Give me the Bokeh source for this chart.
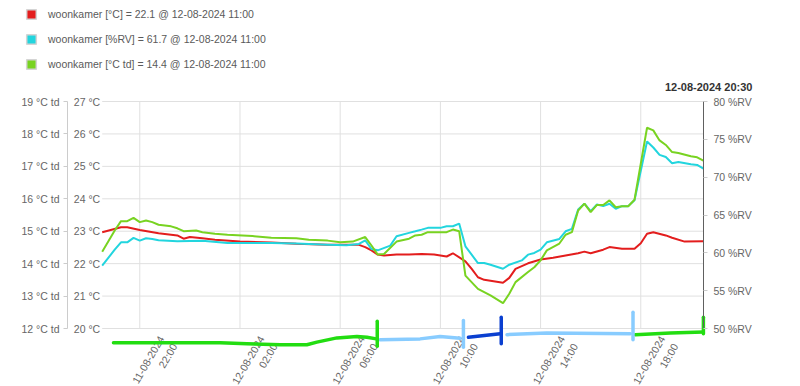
import numpy as np
import pandas as pd
from math import pi
from bokeh.plotting import figure
from bokeh.models import (Range1d, LinearAxis, FixedTicker, PrintfTickFormatter,
                          Legend, LegendItem)
from bokeh.embed import file_html
from bokeh.resources import INLINE
from bokeh.core.properties import value

# ---------------- data (hours since 11-08-2024 00:00) ----------------
temp_h = [20.5, 21.25, 21.5, 22.0, 22.75, 23.5, 23.75, 24.0, 24.5, 25.0,
          26.0, 27.25, 28.25, 29.5, 30.75, 31.0, 31.25, 31.5, 31.75, 32.25,
          32.75, 33.25, 33.75, 34.25, 34.5, 35.0, 35.25, 35.5, 35.75, 36.5,
          36.75, 37.0, 37.5, 38.0, 38.5, 39.0, 39.5, 39.75, 40.0, 40.5,
          40.75, 41.25, 41.75, 42.0, 42.25, 42.5, 43.0, 43.25, 43.75, 44.5]
temp_c = [22.97, 23.12, 23.12, 23.04, 22.94, 22.87, 22.77, 22.82, 22.78, 22.74,
          22.68, 22.65, 22.61, 22.58, 22.58, 22.51, 22.41, 22.28, 22.25, 22.28,
          22.28, 22.30, 22.28, 22.22, 22.32, 22.07, 21.84, 21.58, 21.50, 21.41,
          21.56, 21.84, 22.01, 22.13, 22.18, 22.25, 22.32, 22.37, 22.32, 22.43,
          22.51, 22.46, 22.46, 22.63, 22.92, 22.97, 22.87, 22.80, 22.68, 22.69]

rh_h = [20.5, 21.0, 21.25, 21.5, 21.75, 22.0, 22.25, 22.5, 22.75, 23.5,
        24.5, 25.5, 27.25, 28.25, 29.5, 30.25, 30.75, 31.0, 31.25, 31.5,
        32.0, 32.25, 32.75, 33.0, 33.25, 33.5, 34.0, 34.25, 34.5, 34.75,
        35.0, 35.5, 35.75, 36.0, 36.5, 36.75, 37.25, 37.5, 37.75, 38.0,
        38.25, 38.75, 39.0, 39.25, 39.5, 39.75, 40.0, 40.25, 40.5, 40.75,
        41.0, 41.25, 41.5, 41.75, 42.25, 42.5, 42.75, 43.0, 43.25, 43.5,
        44.0, 44.25, 44.5]
rh_pct = [58.30, 60.42, 61.39, 61.39, 61.97, 61.61, 61.92, 61.84, 61.65, 61.52,
          61.61, 61.31, 61.31, 61.22, 61.08, 60.99, 61.18, 61.65, 60.51, 60.33,
          60.95, 62.19, 62.64, 62.85, 63.07, 63.30, 63.30, 63.51, 63.51, 63.87,
          60.86, 58.65, 58.65, 58.43, 57.90, 58.43, 59.00, 59.76, 59.98, 60.42,
          61.39, 61.84, 62.85, 63.17, 65.73, 66.49, 65.50, 66.39, 66.17, 66.49,
          65.82, 66.17, 66.17, 66.96, 74.72, 73.92, 72.94, 72.67, 71.84, 72.01,
          71.70, 71.61, 71.13]

td_h = [20.5, 21.0, 21.25, 21.5, 21.75, 22.0, 22.25, 22.5, 22.75, 23.25,
        23.5, 23.75, 24.25, 24.5, 25.0, 25.5, 26.5, 27.25, 28.25, 28.75,
        29.5, 30.0, 30.5, 31.0, 31.25, 31.5, 31.75, 32.25, 32.75, 33.0,
        33.25, 33.5, 33.75, 34.25, 34.5, 34.75, 35.0, 35.5, 36.0, 36.5,
        36.75, 37.0, 37.5, 37.75, 38.0, 38.25, 38.75, 39.0, 39.25, 39.5,
        39.75, 40.0, 40.25, 40.5, 40.75, 41.0, 41.25, 41.5, 41.75, 42.25,
        42.5, 42.75, 43.0, 43.25, 43.5, 44.0, 44.25, 44.5]
td_c = [14.37, 15.02, 15.31, 15.31, 15.41, 15.28, 15.33, 15.28, 15.20, 15.15,
        15.09, 15.00, 15.02, 14.97, 14.92, 14.89, 14.85, 14.80, 14.78, 14.74,
        14.71, 14.66, 14.68, 14.82, 14.56, 14.28, 14.30, 14.68, 14.77, 14.87,
        14.89, 14.97, 14.97, 14.97, 15.05, 15.00, 13.63, 13.22, 13.02, 12.78,
        13.07, 13.43, 13.74, 13.89, 14.10, 14.41, 14.62, 14.89, 14.97, 15.64,
        15.85, 15.59, 15.81, 15.81, 15.95, 15.74, 15.77, 15.77, 15.97, 18.19,
        18.11, 17.80, 17.66, 17.44, 17.41, 17.31, 17.28, 17.18]

# hand-drawn period strokes under the chart (hours, level on the °C scale)
stroke_colors = ["#22dd11", "#88ccff", "#0a3fd0", "#88ccff", "#22dd11"]
stroke_h = [[20.95, 23.08, 25.21, 26.28, 27.61, 28.67, 29.07, 29.87, 30.67, 31.07, 31.44],
            [31.6, 33.19, 33.99, 34.79],
            [35.12, 36.39],
            [36.66, 38.25, 41.58],
            [41.78, 43.18, 44.5]]
stroke_lvl = [[19.56, 19.56, 19.56, 19.53, 19.50, 19.50, 19.58, 19.71, 19.75, 19.73, 19.68],
              [19.65, 19.68, 19.75, 19.70],
              [19.73, 19.84],
              [19.81, 19.86, 19.84],
              [19.81, 19.86, 19.89]]
mark_h = [31.48, 34.92, 36.43, 41.69, 44.5]
mark_lo = [19.45, 19.42, 19.53, 19.65, 19.84]
mark_hi = [20.22, 20.25, 20.35, 20.50, 20.35]

t_start, t_end = 20.5, 44.5          # 11-08 20:30 .. 12-08 20:30
tick_hours = [22, 26, 30, 34, 38, 42]
tick_labels = ["11-08-2024\n22:00", "12-08-2024\n02:00", "12-08-2024\n06:00",
               "12-08-2024\n10:00", "12-08-2024\n14:00", "12-08-2024\n18:00"]
temp_ticks = [20, 21, 22, 23, 24, 25, 26, 27]
td_ticks = [12, 13, 14, 15, 16, 17, 18, 19]
rh_ticks = [50, 55, 60, 65, 70, 75, 80]

legend_labels = ["woonkamer [°C] = 22.1 @ 12-08-2024 11:00",
                 "woonkamer [%RV] = 61.7 @ 12-08-2024 11:00",
                 "woonkamer [°C td] = 14.4 @ 12-08-2024 11:00"]
title_text = "12-08-2024 20:30"

RED, CYAN, GREEN = "#e31d1d", "#22d5de", "#78d321"
FONT = "Liberation Sans"
GRID = "#e0e0e0"
LBL = "#666666"

BASE = pd.Timestamp("2024-08-11 00:00")


def ms(hours):
    return np.array([(BASE + pd.Timedelta(hours=h)).value / 1e6 for h in hours])


# ---------------- geometry (the frame covers the whole canvas) ----------------
W, H = 796, 385
X0, PX_H = 101.7, 25.05          # pixel of t_start, pixels per hour
Y27, PX_C = 101.0, 227 / 7.0     # pixel of 27 °C, pixels per °C
PX_RH = 227 / 30.0
TD_AXIS_X = 67.0                 # pixel of the outer (dew point) axis line

x_lo_h = t_start - X0 / PX_H
x_hi_h = t_start + (W - X0) / PX_H
y_hi = 27 + Y27 / PX_C
y_lo = 27 - (H - Y27) / PX_C
rh_hi = 80 + Y27 / PX_RH
rh_lo = 80 - (H - Y27) / PX_RH

p = figure(width=W, height=H, output_backend="svg", toolbar_location=None,
           x_axis_type="datetime", x_axis_location=None, y_axis_location="left",
           x_range=Range1d(ms([x_lo_h])[0], ms([x_hi_h])[0]),
           y_range=Range1d(y_lo, y_hi),
           min_border_top=0, min_border_bottom=0,
           min_border_left=0, min_border_right=0)
p.extra_y_ranges = {"td": Range1d(y_lo - 8, y_hi - 8), "rh": Range1d(rh_lo, rh_hi)}
p.outline_line_color = None
p.background_fill_color = "white"
p.border_fill_color = "white"
p.xgrid.visible = False
p.ygrid.visible = False

# inner °C axis at the start of the data
ax = p.yaxis[0]
ax.fixed_location = ms([t_start])[0]
ax.ticker = FixedTicker(ticks=temp_ticks)
ax.bounds = (20, 27)
ax.formatter = PrintfTickFormatter(format="%d °C")
ax.axis_line_color = None
ax.major_tick_line_color = None
ax.minor_tick_line_color = None
ax.major_tick_out = 0
ax.major_tick_in = 0
ax.major_label_standoff = 2
ax.major_label_text_font = FONT
ax.major_label_text_font_size = "10.5px"
ax.major_label_text_color = LBL

# outer °C td axis
td_ax = LinearAxis(y_range_name="td", ticker=FixedTicker(ticks=td_ticks),
                   formatter=PrintfTickFormatter(format="%d °C td"), bounds=(12, 19))
td_ax.fixed_location = ms([x_lo_h + TD_AXIS_X / PX_H])[0]
td_ax.axis_line_color = "#cccccc"
td_ax.major_tick_line_color = "#cccccc"
td_ax.minor_tick_line_color = None
td_ax.major_tick_out = 4
td_ax.major_tick_in = 0
td_ax.major_label_standoff = 4
td_ax.major_label_text_font = FONT
td_ax.major_label_text_font_size = "10.5px"
td_ax.major_label_text_color = LBL
p.add_layout(td_ax, "left")

# right %RV axis at the end of the data
rh_ax = LinearAxis(y_range_name="rh", ticker=FixedTicker(ticks=rh_ticks),
                   formatter=PrintfTickFormatter(format="%d %%RV"), bounds=(50, 80))
rh_ax.fixed_location = ms([t_end])[0]
rh_ax.axis_line_color = "#606060"
rh_ax.major_tick_line_color = "#cccccc"
rh_ax.minor_tick_line_color = None
rh_ax.major_tick_out = 4
rh_ax.major_tick_in = 0
rh_ax.major_label_standoff = 6
rh_ax.major_label_text_font = FONT
rh_ax.major_label_text_font_size = "10.5px"
rh_ax.major_label_text_color = LBL
p.add_layout(rh_ax, "right")

# grid lines, limited to the value area
n_h = len(temp_ticks)
p.segment(x0=ms([t_start] * n_h), y0=temp_ticks, x1=ms([t_end] * n_h), y1=temp_ticks,
          line_color=GRID, line_width=1)
tx = ms(tick_hours)
p.segment(x0=tx, y0=[20] * len(tx), x1=tx, y1=[27] * len(tx),
          line_color=GRID, line_width=1)

# time tick labels
p.text(x=tx, y=[20] * len(tx), text=tick_labels, angle=pi / 3,
       x_offset=28, y_offset=12, text_align="right", text_baseline="middle",
       text_font=value(FONT), text_font_size="10.5px", text_color=LBL,
       text_line_height=1.25)

# header (current time) above the right end
p.text(x=ms([t_end]), y=[27], text=[title_text], x_offset=49, y_offset=-15,
       text_align="right", text_baseline="middle", text_font=value(FONT),
       text_font_size="11px", text_font_style="bold", text_color="#333333")

# series
p.line(ms(temp_h), temp_c, line_color=RED, line_width=2)
p.line(ms(rh_h), rh_pct, line_color=CYAN, line_width=2, y_range_name="rh")
p.line(ms(td_h), td_c, line_color=GREEN, line_width=2, y_range_name="td")

# hand-drawn strokes
p.multi_line(xs=[ms(h) for h in stroke_h], ys=stroke_lvl, line_color=stroke_colors,
             line_width=3.5, line_cap="round", line_join="round")
p.segment(x0=ms(mark_h), y0=mark_lo, x1=ms(mark_h), y1=mark_hi,
          line_color=stroke_colors, line_width=3.5, line_cap="round")

# legend with square swatches (proxy renderers hold one undrawn NaN point)
items = []
for lab, col in zip(legend_labels, [RED, CYAN, GREEN]):
    r = p.scatter(x=[np.nan], y=[np.nan], marker="square", size=10, fill_color=col,
                  line_color="#d4d4d4", line_width=1.5)
    items.append(LegendItem(label=lab, renderers=[r]))
legend = Legend(items=items, location=(19, 309), orientation="vertical",
                glyph_width=24, glyph_height=24, label_standoff=5, spacing=1,
                padding=0, margin=0, border_line_color=None,
                background_fill_alpha=0, label_text_font=FONT,
                label_text_font_size="10.5px", label_text_color="#5a5a5a",
                label_height=20)
p.add_layout(legend, "center")

open("out.html", "w").write(file_html(p, INLINE))
